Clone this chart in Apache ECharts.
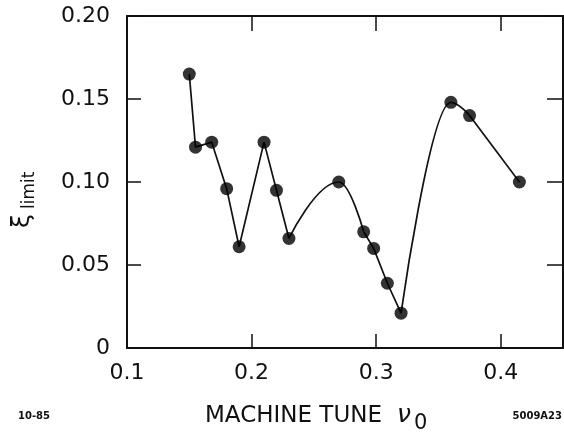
<!DOCTYPE html>
<html>
<head>
<meta charset="utf-8">
<script src="https://cdn.jsdelivr.net/npm/echarts@6/dist/echarts.min.js"></script>
<style>
html,body{margin:0;padding:0;background:#fff;}
#c{width:564px;height:433px;}
</style>
</head>
<body>
<div id="c"></div>
<script>
// Data
const tuneValues = [0.150,0.155,0.168,0.180,0.190,0.210,0.220,0.230,0.270,0.290,0.298,0.309,0.320,0.360,0.375,0.415];
const xiLimitValues = [0.165,0.121,0.124,0.096,0.061,0.124,0.095,0.066,0.100,0.070,0.060,0.039,0.021,0.148,0.140,0.100];
const xTickLabels = ['0.1','0.2','0.3','0.4'];
const yTickLabels = ['0','0.05','0.10','0.15','0.20'];

const points = tuneValues.map((x, i) => [x, xiLimitValues[i]]);

const FONT = 'DejaVu Sans';
const INK = '#111';

function xLabel(v) {
  const i = Math.round((v - 0.1) / 0.1);
  if (Math.abs(v - (0.1 + 0.1 * i)) < 1e-6 && xTickLabels[i] !== undefined) return xTickLabels[i];
  return '';
}
function yLabel(v) {
  const i = Math.round(v / 0.05);
  if (Math.abs(v - 0.05 * i) < 1e-6 && yTickLabels[i] !== undefined) return yTickLabels[i];
  return '';
}

const axisLine = { show: true, onZero: false, lineStyle: { color: INK, width: 2 } };
const tickStyle = { show: true, inside: true, length: 14, lineStyle: { color: INK, width: 1.5 } };

// hand-drawn curve: straight pieces plus two rounded peaks
function piece(from, to, smooth) {
  return {
    type: 'line',
    data: points.slice(from, to + 1),
    showSymbol: false,
    smooth: smooth || false,
    smoothMonotone: smooth ? 'x' : undefined,
    lineStyle: { color: INK, width: 1.7 },
    z: 2
  };
}

const chart = echarts.init(document.getElementById('c'), null, { renderer: 'canvas' });
chart.setOption({
  backgroundColor: '#fff',
  animation: false,
  grid: { left: 127, top: 16, right: 1, bottom: 85, containLabel: false },
  xAxis: [
    {
      type: 'value', position: 'bottom', min: 0.1, max: 0.45, interval: 0.1,
      axisLine: axisLine, axisTick: tickStyle, splitLine: { show: false },
      axisLabel: { show: true, formatter: xLabel, showMaxLabel: false, margin: 14,
        fontFamily: FONT, fontSize: 22, color: INK }
    },
    {
      type: 'value', position: 'top', min: 0.1, max: 0.45, interval: 0.1,
      axisLine: axisLine, axisTick: Object.assign({}, tickStyle, { length: 15 }),
      splitLine: { show: false }, axisLabel: { show: false }
    }
  ],
  yAxis: [
    {
      type: 'value', position: 'left', min: 0, max: 0.2, interval: 0.05,
      axisLine: axisLine, axisTick: tickStyle, splitLine: { show: false },
      axisLabel: { show: true, formatter: yLabel, margin: 17,
        fontFamily: FONT, fontSize: 22, color: INK }
    },
    {
      type: 'value', position: 'right', min: 0, max: 0.2, interval: 0.05,
      axisLine: axisLine, axisTick: Object.assign({}, tickStyle, { length: 16 }),
      splitLine: { show: false }, axisLabel: { show: false }
    }
  ],
  series: [
    piece(0, 7),
    piece(7, 9, 0.45),
    piece(9, 12),
    piece(12, 14, 0.4),
    piece(14, 15),
    {
      type: 'scatter',
      data: points,
      symbol: 'circle',
      symbolSize: 13,
      itemStyle: { color: '#000' },
      z: 3
    }
  ],
  graphic: [
    { type: 'text', left: 205, top: 405,
      style: { text: 'MACHINE TUNE', font: '23px "DejaVu Sans"', fill: INK } },
    { type: 'text', left: 397, top: 403,
      style: { text: 'ν', font: 'italic 25px "DejaVu Sans"', fill: INK } },
    { type: 'text', left: 414, top: 413,
      style: { text: '0', font: '21px "DejaVu Sans"', fill: INK } },
    { type: 'text', left: 18, top: 411,
      style: { text: '10-85', font: 'bold 10px "DejaVu Sans"', fill: INK } },
    { type: 'text', right: 2, top: 411,
      style: { text: '5009A23', font: 'bold 10px "DejaVu Sans"', fill: INK } },
    { type: 'text', x: 10, y: 228, rotation: Math.PI / 2,
      style: { text: 'ξ', font: '25px "DejaVu Sans"', fill: INK, align: 'left', verticalAlign: 'top' } },
    { type: 'text', x: 21, y: 209, rotation: Math.PI / 2,
      style: { text: 'limit', font: '17px "DejaVu Sans"', fill: INK, align: 'left', verticalAlign: 'top' } }
  ]
});
</script>
</body>
</html>
